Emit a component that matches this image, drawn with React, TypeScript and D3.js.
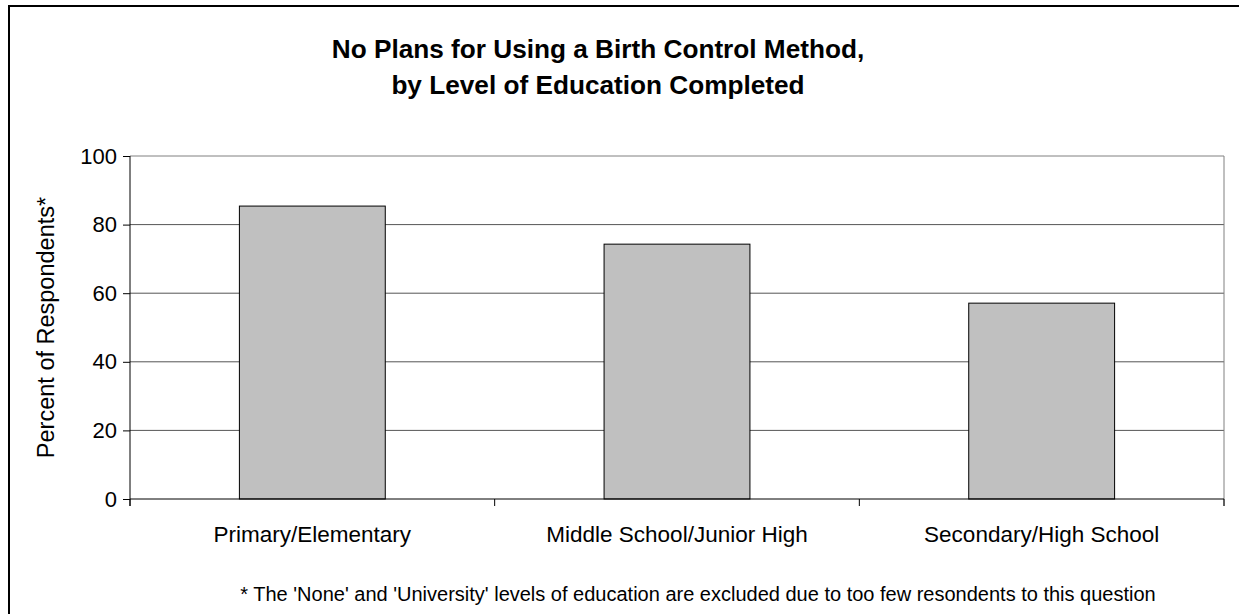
import React, { useEffect, useRef } from 'react';
import * as d3 from 'd3';

const categories = ['Primary/Elementary', 'Middle School/Junior High', 'Secondary/High School'];
const values = [85.4, 74.3, 57.1];
const yTicks = [0, 20, 40, 60, 80, 100];
const titleLines = ['No Plans for Using a Birth Control Method,', 'by Level of Education Completed'];
const yLabel = 'Percent of Respondents*';
const footnote = "* The 'None' and 'University' levels of education are excluded due to too few resondents to this question";

const App: React.FC = () => {
  const svgRef = useRef<SVGSVGElement>(null);

  useEffect(() => {
    if (!svgRef.current) return;
    const svg = d3.select(svgRef.current);
    svg.selectAll('*').remove();

    const width = 1239;
    const height = 614;
    const margin = { top: 156, right: 15, bottom: 115, left: 130 };
    const font = 'Arial, "Liberation Sans", sans-serif';

    // outer chart border (right/bottom edges run off the page)
    svg.append('rect')
      .attr('x', 9).attr('y', 6)
      .attr('width', width + 10).attr('height', height + 10)
      .attr('fill', 'white')
      .attr('stroke', 'black')
      .attr('stroke-width', 2);

    const x = d3.scaleBand()
      .domain(categories)
      .range([margin.left, width - margin.right])
      .paddingInner(0.6)
      .paddingOuter(0.3);

    const y = d3.scaleLinear()
      .domain([0, 100])
      .range([height - margin.bottom, margin.top]);

    const plotRight = width - margin.right;

    // gridlines
    svg.append('g')
      .selectAll('line')
      .data(yTicks.filter(t => t > 0))
      .join('line')
      .attr('x1', margin.left).attr('x2', plotRight)
      .attr('y1', d => y(d)).attr('y2', d => y(d))
      .attr('stroke', d => d === 100 ? '#808080' : '#555')
      .attr('stroke-width', 1);

    // plot area right border
    svg.append('line')
      .attr('x1', plotRight).attr('x2', plotRight)
      .attr('y1', y(100)).attr('y2', y(0) + 7)
      .attr('stroke', '#808080');

    // bars
    svg.append('g')
      .selectAll('rect')
      .data(values)
      .join('rect')
      .attr('x', (_, i) => x(categories[i])!)
      .attr('y', d => y(d))
      .attr('width', x.bandwidth())
      .attr('height', d => y(0) - y(d))
      .attr('fill', '#c0c0c0')
      .attr('stroke', 'black')
      .attr('stroke-width', 1);

    // y axis
    const yAxis = svg.append('g')
      .attr('transform', `translate(${margin.left},0)`)
      .call(d3.axisLeft(y).tickValues(yTicks).tickSize(7).tickPadding(6).tickFormat(d3.format('d')));
    yAxis.select('.domain').attr('stroke', 'black').attr('d', `M0,${y(100)}V${y(0) + 7}`);
    yAxis.selectAll('text').attr('font-size', 22).attr('font-family', font).attr('fill', 'black');

    // x axis
    const step = (plotRight - margin.left) / categories.length;
    const xAxis = svg.append('g')
      .attr('transform', `translate(0,${y(0)})`);
    xAxis.append('line')
      .attr('x1', margin.left).attr('x2', plotRight)
      .attr('stroke', 'black');
    xAxis.selectAll('line.tick')
      .data(d3.range(categories.length + 1))
      .join('line')
      .attr('class', 'tick')
      .attr('x1', i => margin.left + i * step).attr('x2', i => margin.left + i * step)
      .attr('y1', 0).attr('y2', 7)
      .attr('stroke', 'black');
    xAxis.selectAll('text')
      .data(categories)
      .join('text')
      .attr('x', d => x(d)! + x.bandwidth() / 2)
      .attr('y', 43)
      .attr('text-anchor', 'middle')
      .attr('font-size', 22.5)
      .attr('font-family', font)
      .text(d => d);

    // y label
    svg.append('text')
      .attr('transform', `translate(54,${(y(0) + y(100)) / 2}) rotate(-90)`)
      .attr('text-anchor', 'middle')
      .attr('font-size', 23.5)
      .attr('font-family', font)
      .text(yLabel);

    // title
    svg.append('text')
      .attr('text-anchor', 'middle')
      .attr('font-size', 26.2)
      .attr('font-weight', 'bold')
      .attr('font-family', font)
      .selectAll('tspan')
      .data(titleLines)
      .join('tspan')
      .attr('x', 598)
      .attr('y', (_, i) => 58 + i * 36)
      .text(d => d);

    // footnote
    svg.append('text')
      .attr('x', 698)
      .attr('y', 601)
      .attr('text-anchor', 'middle')
      .attr('font-size', 20)
      .attr('font-family', font)
      .text(footnote);
  }, []);

  return (
    <svg
      ref={svgRef}
      width={1239}
      height={614}
      style={{ position: 'absolute', left: 0, top: 0, background: 'white' }}
    />
  );
};

export default App;
